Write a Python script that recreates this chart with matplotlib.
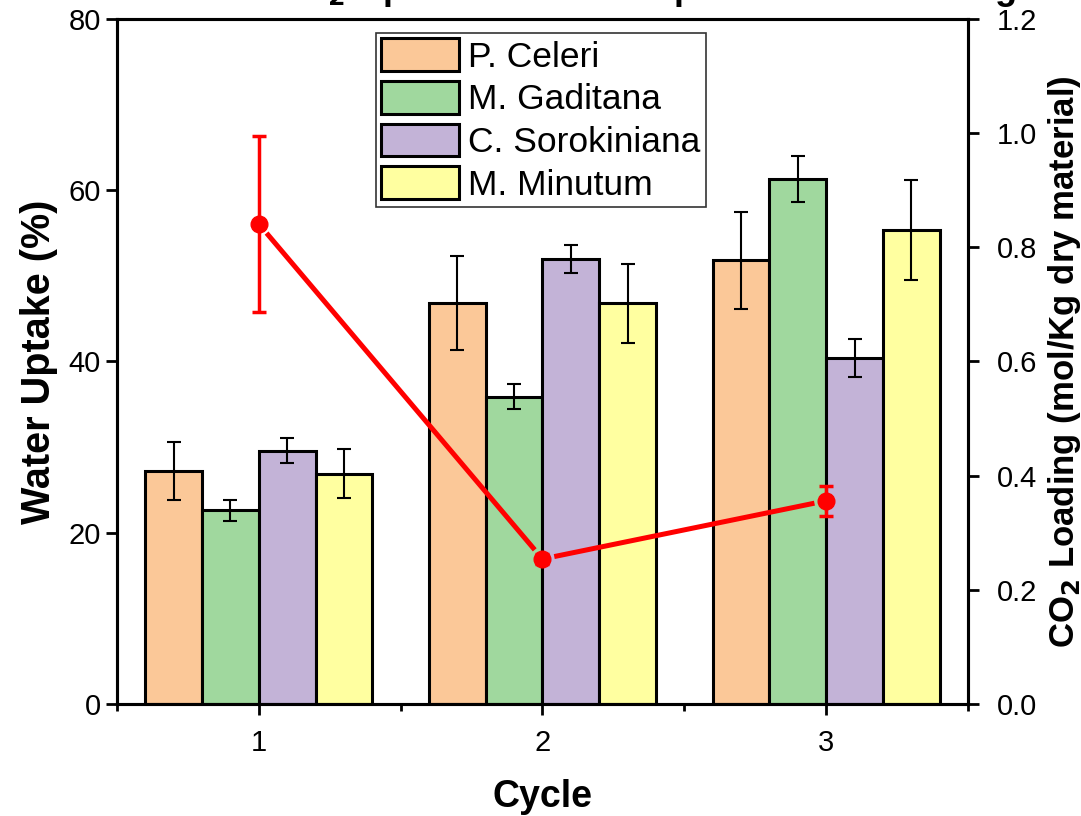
import matplotlib
matplotlib.use("Agg")
import matplotlib.pyplot as plt
import numpy as np

plt.rcParams['font.family'] = ['Liberation Sans', 'DejaVu Sans']

cycles = [1, 2, 3]
species = ["P. Celeri", "M. Gaditana", "C. Sorokiniana", "M. Minutum"]
colors = ["#FBC898", "#A0D89E", "#C3B3D7", "#FFFFA0"]

water_pceleri = [27.2, 46.8, 51.8]
water_mgaditana = [22.6, 35.9, 61.3]
water_csorokiniana = [29.6, 52.0, 40.4]
water_mminutum = [26.9, 46.8, 55.4]

err_pceleri = [3.4, 5.5, 5.7]
err_mgaditana = [1.2, 1.45, 2.7]
err_csorokiniana = [1.5, 1.65, 2.2]
err_mminutum = [2.9, 4.6, 5.85]

co2_loading = [0.841, 0.254, 0.356]
co2_err = [0.154, 0.008, 0.026]

water = [water_pceleri, water_mgaditana, water_csorokiniana, water_mminutum]
errs = [err_pceleri, err_mgaditana, err_csorokiniana, err_mminutum]

fig = plt.figure(figsize=(10.81, 8.16), dpi=100)
ax = fig.add_axes([0.1082, 0.1373, 0.7873, 0.8394])

width = 0.2
x = np.array(cycles, dtype=float)
offsets = [-1.5, -0.5, 0.5, 1.5]
for vals, e, c, lab, off in zip(water, errs, colors, species, offsets):
    ax.bar(x + off * width, vals, width, color=c, edgecolor='black', linewidth=2.2,
           label=lab, zorder=2)
    ax.errorbar(x + off * width, vals, yerr=e, fmt='none', ecolor='black',
                elinewidth=1.5, capsize=5, capthick=1.5, zorder=3)

ax.set_xlim(0.5, 3.5)
ax.set_ylim(0, 80)
ax.set_xticks(cycles)
ax.set_xticks([0.5, 1.5, 2.5, 3.5], minor=True)
ax.set_yticks([0, 20, 40, 60, 80])
ax.tick_params(axis='both', which='major', direction='out', length=8, width=2, labelsize=21)
ax.tick_params(axis='x', which='minor', direction='out', length=5, width=2)
ax.tick_params(axis='x', pad=10)
for s in ax.spines.values():
    s.set_linewidth(2.2)

ax.set_xlabel("Cycle", fontsize=27, fontweight='bold', labelpad=16)
ax.set_ylabel("Water Uptake (%)", fontsize=28.5, fontweight='bold', labelpad=8)

leg = ax.legend(loc='upper left', bbox_to_anchor=(0.304, 0.979), fontsize=25.5,
                fancybox=False, edgecolor='#333333', framealpha=1,
                handlelength=2.2, handleheight=1.05, labelspacing=0.2,
                handletextpad=0.28, borderpad=0.14, borderaxespad=0)
leg.get_frame().set_linewidth(1.2)

ax2 = ax.twinx()
ax2.set_ylim(0, 1.2)
ax2.errorbar(cycles, co2_loading, yerr=co2_err, color='#FF0000', fmt='o',
             markersize=12, elinewidth=2.5, capsize=5, capthick=2.5, zorder=5)

# connecting line with small gaps around the markers (Origin style)
gap_px = 12.0
pts = ax2.transData.transform(np.column_stack([cycles, co2_loading]))
inv = ax2.transData.inverted()
for p0, p1 in zip(pts[:-1], pts[1:]):
    d = p1 - p0
    u = d / np.hypot(*d)
    a = inv.transform(p0 + u * gap_px)
    b = inv.transform(p1 - u * gap_px)
    ax2.plot([a[0], b[0]], [a[1], b[1]], color='#FF0000', lw=3.6,
             solid_capstyle='butt', zorder=4)

ax2.set_yticks([0.0, 0.2, 0.4, 0.6, 0.8, 1.0, 1.2])
ax2.set_yticklabels(["0.0", "0.2", "0.4", "0.6", "0.8", "1.0", "1.2"])
ax2.tick_params(axis='y', direction='out', length=8, width=2, labelsize=21, pad=13)
for s in ax2.spines.values():
    s.set_linewidth(2.2)
ax2.set_ylabel("CO$_\\mathbf{2}$ Loading (mol/Kg dry material)", fontsize=25,
               fontweight='bold', labelpad=6)

fig.text(273 / 1081, 1.0 + 1 / 816, "CO$_\\mathbf{2}$ Uptake vs Water Uptake after Washing",
         ha='left', va='baseline', fontsize=26, fontweight='bold')

fig.savefig("out.png", dpi=100)
